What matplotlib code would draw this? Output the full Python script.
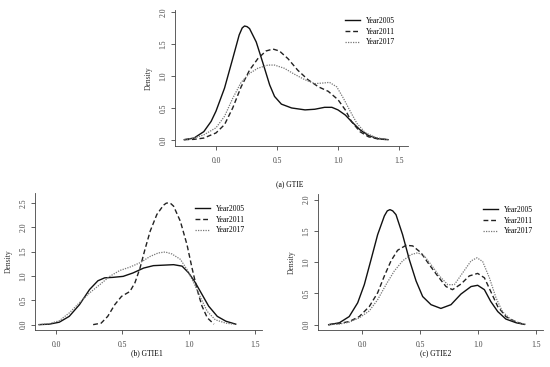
import matplotlib
matplotlib.use("Agg")
import matplotlib.pyplot as plt

plt.rcParams['font.family'] = ['Liberation Serif', 'DejaVu Serif']

series_names = ["Year2005", "Year2011", "Year2017"]
x_ticks = [0.0, 0.5, 1.0, 1.5]

# ---- (a) GTIE ----
a_2005_x = [-0.26, -0.18, -0.10, -0.04, 0.0, 0.07, 0.137, 0.19, 0.215, 0.234, 0.255, 0.275, 0.33, 0.385, 0.44, 0.48, 0.536, 0.62, 0.73, 0.81, 0.89, 0.95, 1.0, 1.06, 1.11, 1.18, 1.25, 1.33, 1.41]
a_2005_y = [0.005, 0.03, 0.13, 0.29, 0.45, 0.81, 1.27, 1.64, 1.75, 1.78, 1.77, 1.74, 1.53, 1.20, 0.86, 0.68, 0.56, 0.50, 0.47, 0.48, 0.51, 0.51, 0.47, 0.39, 0.29, 0.16, 0.07, 0.02, 0.005]
a_2011_x = [-0.26, -0.18, -0.10, 0.0, 0.07, 0.137, 0.206, 0.275, 0.343, 0.41, 0.467, 0.52, 0.59, 0.67, 0.755, 0.84, 0.92, 1.0, 1.06, 1.11, 1.18, 1.25, 1.33, 1.41]
a_2011_y = [0.005, 0.01, 0.03, 0.11, 0.24, 0.50, 0.83, 1.09, 1.27, 1.39, 1.42, 1.39, 1.27, 1.09, 0.94, 0.83, 0.76, 0.63, 0.47, 0.29, 0.13, 0.05, 0.015, 0.005]
a_2017_x = [-0.26, -0.18, -0.10, 0.0, 0.07, 0.137, 0.206, 0.275, 0.343, 0.425, 0.48, 0.56, 0.64, 0.73, 0.81, 0.88, 0.93, 0.99, 1.045, 1.1, 1.155, 1.22, 1.305, 1.41]
a_2017_y = [0.005, 0.03, 0.08, 0.19, 0.37, 0.65, 0.90, 1.04, 1.12, 1.17, 1.17, 1.12, 1.03, 0.94, 0.88, 0.89, 0.90, 0.83, 0.65, 0.45, 0.26, 0.12, 0.04, 0.005]

# ---- (b) GTIE1 ----
b_2005_x = [-0.127, -0.05, 0.025, 0.10, 0.177, 0.253, 0.316, 0.367, 0.43, 0.506, 0.58, 0.66, 0.734, 0.81, 0.886, 0.95, 1.0, 1.05, 1.10, 1.15, 1.215, 1.28, 1.354]
b_2005_y = [0.0, 0.01, 0.05, 0.17, 0.41, 0.72, 0.90, 0.96, 0.97, 0.99, 1.06, 1.16, 1.21, 1.22, 1.23, 1.20, 1.06, 0.86, 0.62, 0.38, 0.17, 0.07, 0.01]
b_2011_x = [0.28, 0.34, 0.39, 0.443, 0.494, 0.557, 0.595, 0.633, 0.67, 0.71, 0.76, 0.81, 0.83, 0.848, 0.866, 0.886, 0.937, 0.987, 1.025, 1.063, 1.10, 1.14, 1.19]
b_2011_y = [0.0, 0.03, 0.17, 0.41, 0.58, 0.68, 0.86, 1.16, 1.54, 1.92, 2.26, 2.45, 2.49, 2.50, 2.48, 2.43, 2.12, 1.64, 1.16, 0.72, 0.38, 0.14, 0.01]
b_2017_x = [-0.127, -0.05, 0.025, 0.10, 0.177, 0.253, 0.33, 0.405, 0.48, 0.557, 0.633, 0.71, 0.77, 0.823, 0.873, 0.937, 0.987, 1.038, 1.09, 1.14, 1.20, 1.28, 1.34]
b_2017_y = [0.0, 0.02, 0.08, 0.24, 0.45, 0.65, 0.82, 0.99, 1.11, 1.18, 1.27, 1.40, 1.47, 1.49, 1.45, 1.34, 1.13, 0.86, 0.55, 0.27, 0.10, 0.03, 0.01]

# ---- (c) GTIE2 ----
c_2005_x = [-0.287, -0.195, -0.11, -0.037, 0.02, 0.078, 0.135, 0.193, 0.218, 0.241, 0.265, 0.293, 0.35, 0.408, 0.466, 0.523, 0.595, 0.68, 0.767, 0.853, 0.94, 0.997, 1.055, 1.11, 1.17, 1.24, 1.33, 1.40]
c_2005_y = [0.0, 0.03, 0.13, 0.35, 0.64, 1.04, 1.44, 1.74, 1.82, 1.84, 1.82, 1.76, 1.44, 1.04, 0.70, 0.45, 0.32, 0.26, 0.32, 0.49, 0.61, 0.63, 0.56, 0.37, 0.21, 0.09, 0.03, 0.005]
c_2011_x = [-0.287, -0.195, -0.11, -0.023, 0.063, 0.135, 0.193, 0.25, 0.307, 0.38, 0.437, 0.509, 0.58, 0.652, 0.724, 0.78, 0.853, 0.925, 0.997, 1.055, 1.11, 1.17, 1.24, 1.33, 1.40]
c_2011_y = [0.0, 0.02, 0.05, 0.13, 0.29, 0.51, 0.78, 1.02, 1.19, 1.27, 1.26, 1.15, 0.96, 0.78, 0.61, 0.56, 0.65, 0.78, 0.82, 0.75, 0.53, 0.29, 0.13, 0.04, 0.005]
c_2017_x = [-0.287, -0.195, -0.11, -0.023, 0.063, 0.135, 0.207, 0.279, 0.35, 0.422, 0.48, 0.537, 0.595, 0.667, 0.739, 0.796, 0.868, 0.94, 0.991, 1.04, 1.098, 1.155, 1.21, 1.285, 1.356, 1.41]
c_2017_y = [0.0, 0.01, 0.04, 0.11, 0.22, 0.40, 0.64, 0.86, 1.02, 1.12, 1.15, 1.10, 0.96, 0.78, 0.64, 0.64, 0.83, 1.02, 1.07, 1.01, 0.75, 0.43, 0.21, 0.08, 0.03, 0.005]

panels = [
    dict(rect=(175, 408, 146, 10), xlim=(-0.336, 1.574), ylim=(-0.094, 2.03),
         yticks=[0.0, 0.5, 1.0, 1.5, 2.0],
         data=[(a_2005_x, a_2005_y), (a_2011_x, a_2011_y), (a_2017_x, a_2017_y)],
         legend_xy=(345, 17)),
    dict(rect=(35, 262, 330, 193), xlim=(-0.158, 1.552), ylim=(-0.11, 2.70),
         yticks=[0.0, 0.5, 1.0, 1.5, 2.0, 2.5],
         data=[(b_2005_x, b_2005_y), (b_2011_x, b_2011_y), (b_2017_x, b_2017_y)],
         legend_xy=(195, 205)),
    dict(rect=(318, 543, 330, 194), xlim=(-0.379, 1.56), ylim=(-0.085, 2.09),
         yticks=[0.0, 0.5, 1.0, 1.5, 2.0],
         data=[(c_2005_x, c_2005_y), (c_2011_x, c_2011_y), (c_2017_x, c_2017_y)],
         legend_xy=(483, 206)),
]

styles = [dict(color="#111111", linestyle="-", linewidth=1.0),
          dict(color="#222222", linestyle=(0, (3.5, 2)), linewidth=1.0),
          dict(color="#777777", linestyle=(0, (1, 1)), linewidth=0.9)]

W, H = 550, 367
fig = plt.figure(figsize=(W / 100, H / 100), dpi=100)

for p in panels:
    l, r, b, t = p["rect"]
    ax = fig.add_axes([l / W, 1 - b / H, (r - l) / W, (b - t) / H])
    for (xs, ys), st, name in zip(p["data"], styles, series_names):
        ax.plot(xs, ys, label=name, solid_joinstyle="round", **st)
    ax.set_xlim(*p["xlim"])
    ax.set_ylim(*p["ylim"])
    ax.set_xticks(x_ticks)
    ax.set_xticklabels([f"{v:.1f}" for v in x_ticks])
    ax.set_yticks(p["yticks"])
    ax.set_yticklabels([f"{v:.1f}" for v in p["yticks"]], rotation=90, va="center")
    for s in ("top", "right"):
        ax.spines[s].set_visible(False)
    for s in ("left", "bottom"):
        ax.spines[s].set_linewidth(0.6)
        ax.spines[s].set_color("#444444")
    ax.tick_params(direction="out", length=3, width=0.6, colors="#444444",
                   labelsize=5.5)
    ax.tick_params(axis="x", pad=5)
    ax.tick_params(axis="y", pad=2.5)
    ax.set_ylabel("Density", fontsize=5.5, labelpad=5, color="#333333")
    lx, ly = p["legend_xy"]
    ax.legend(loc="upper left", bbox_to_anchor=(lx / W, 1 - ly / H),
              bbox_transform=fig.transFigure, frameon=False, fontsize=5.5,
              handlelength=2.0, handletextpad=0.8, labelspacing=0.35,
              borderpad=0, borderaxespad=0)

fig.text(290 / W, 1 - 184 / H, "(a) GTIE", ha="center", va="center", fontsize=5.5)
fig.text(147 / W, 1 - 353 / H, "(b) GTIE1", ha="center", va="center", fontsize=5.5)
fig.text(436 / W, 1 - 353 / H, "(c) GTIE2", ha="center", va="center", fontsize=5.5)

fig.savefig("out.png", dpi=100)
